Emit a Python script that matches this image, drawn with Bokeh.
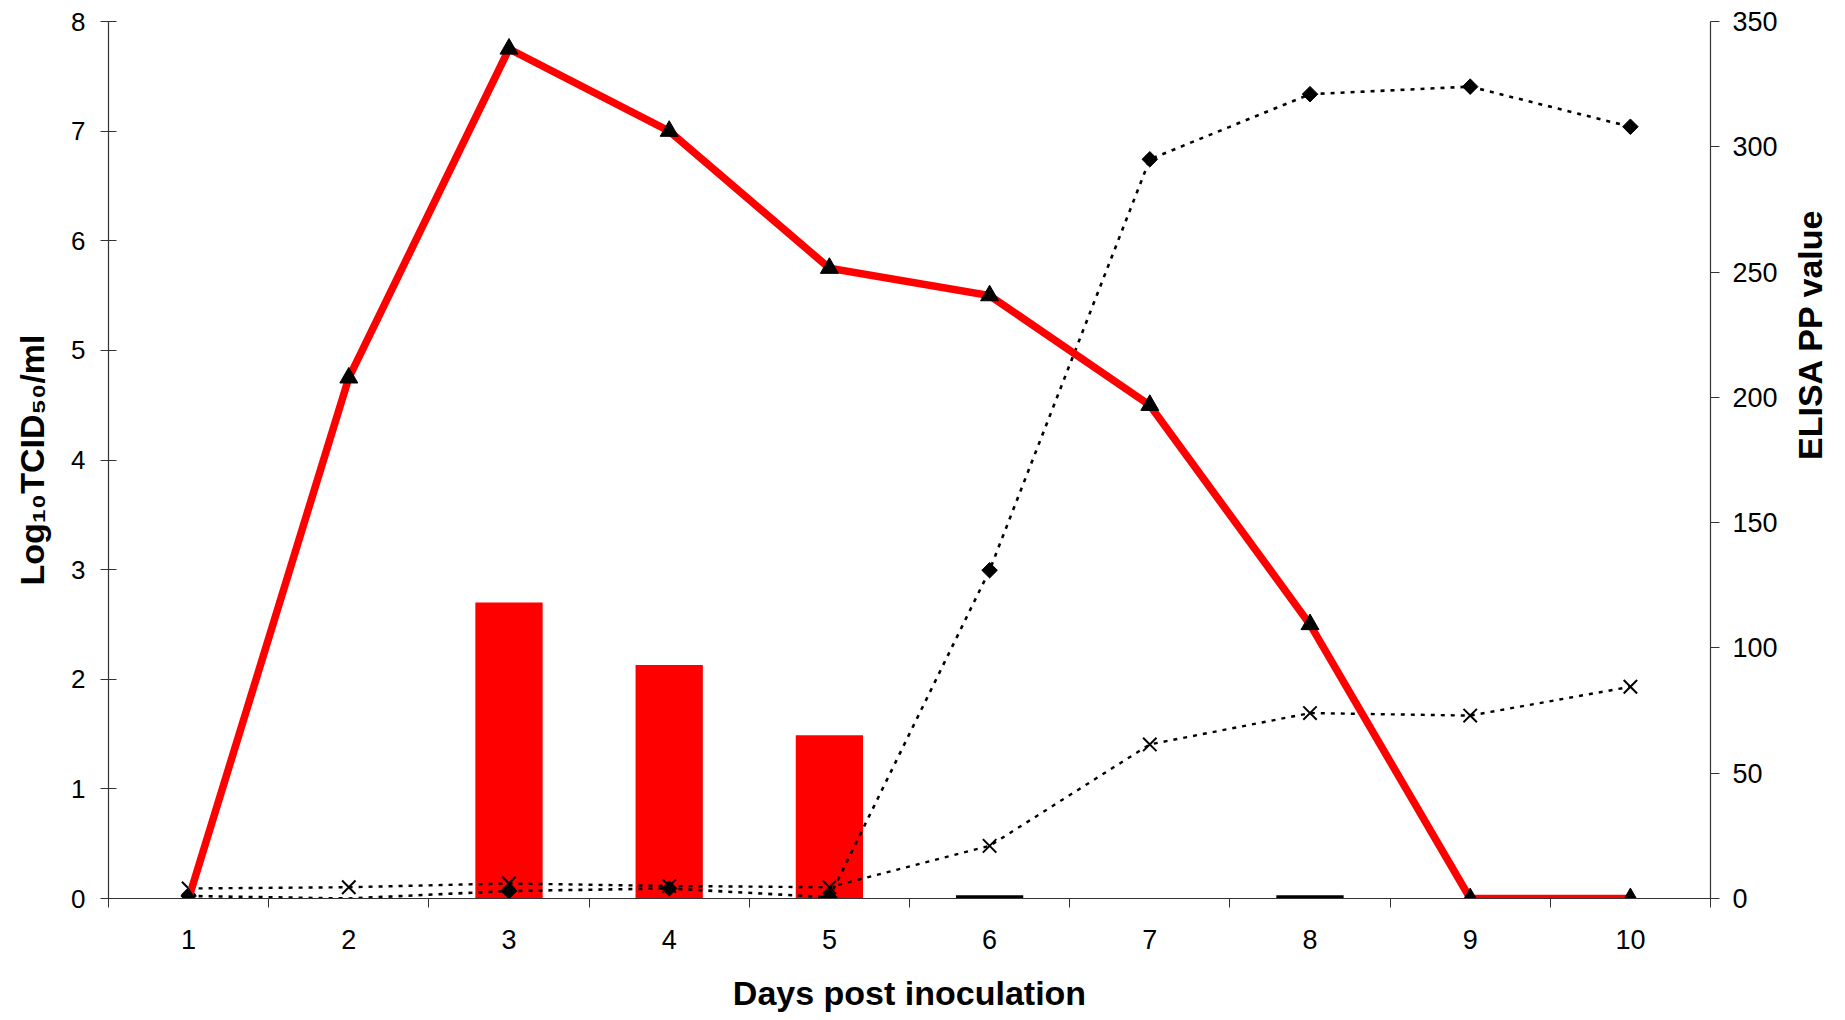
import math
from bokeh.plotting import figure
from bokeh.models import Range1d, LinearAxis, FixedTicker
from bokeh.embed import file_html
from bokeh.resources import INLINE

# ---- data ----
days = [1, 2, 3, 4, 5, 6, 7, 8, 9, 10]
virus_titre = [0, 4.75, 7.75, 7.0, 5.75, 5.5, 4.5, 2.5, 0, 0]          # red line, Log10TCID50/ml
bar_days = [3, 4, 5]
bar_titre = [2.7, 2.13, 1.49]                                          # red bars, Log10TCID50/ml
black_bar_days = [6, 8]
black_bar_titre = [0.03, 0.03]                                         # near-zero black bars
elisa_diamond = [1, 0, 3, 4, 0.5, 131, 295, 321, 324, 308]            # ELISA PP value (diamonds)
diamond_marker_shown = [True, False, True, True, True, True, True, True, True, True]
elisa_cross = [4, 4.5, 6, 5, 4.5, 21, 61.5, 74, 73, 84.5]             # ELISA PP value (crosses)
left_ticks = [0, 1, 2, 3, 4, 5, 6, 7, 8]
right_ticks = [0, 50, 100, 150, 200, 250, 300, 350]
x_title = "Days post inoculation"
left_title = "Log₁₀TCID₅₀/ml"
right_title = "ELISA PP value"

RED = "#FF0000"
AX = "#333333"
TICK_FONT = "Liberation Sans"
TITLE_FONT = "Liberation Sans"

p = figure(frame_width=1602, frame_height=877,
           x_range=Range1d(0.5, 10.5), y_range=Range1d(0, 8),
           output_backend="svg", toolbar_location=None,
           min_border_left=108, min_border_right=100,
           min_border_top=21, min_border_bottom=122)
p.xgrid.visible = False
p.ygrid.visible = False
p.outline_line_color = None
p.background_fill_color = "white"
p.border_fill_color = "white"

# x axis: labels at the days, ticks between categories
xa = p.xaxis[0]
xa.ticker = FixedTicker(ticks=days, minor_ticks=[d - 0.5 for d in days] + [days[-1] + 0.5])
xa.major_tick_out = 9
xa.major_tick_in = 0
xa.major_tick_line_color = None
xa.minor_tick_out = 9
xa.minor_tick_in = 0
xa.minor_tick_line_color = AX
xa.axis_line_color = AX
xa.axis_line_width = 1.2
xa.major_label_text_font = TICK_FONT
xa.major_label_text_font_size = "27px"
xa.major_label_text_color = "black"
xa.major_label_standoff = 22
xa.axis_label = x_title
xa.axis_label_text_font = TITLE_FONT
xa.axis_label_text_font_style = "bold"
xa.axis_label_text_font_size = "34px"
xa.axis_label_text_color = "black"
xa.axis_label_standoff = 22

# left axis
ya = p.yaxis[0]
ya.ticker = FixedTicker(ticks=left_ticks)
ya.major_tick_in = 8
ya.major_tick_out = 8
ya.minor_tick_line_color = None
ya.axis_line_color = AX
ya.axis_line_width = 1.2
ya.major_tick_line_color = AX
ya.major_label_text_font = TICK_FONT
ya.major_label_text_font_size = "26px"
ya.major_label_text_color = "black"
ya.major_label_standoff = 15
ya.axis_label = left_title
ya.axis_label_text_font = TITLE_FONT
ya.axis_label_text_font_style = "bold"
ya.axis_label_text_font_size = "34px"
ya.axis_label_text_color = "black"
ya.axis_label_standoff = 17

# right axis
p.extra_y_ranges = {"elisa": Range1d(0, 350)}
ra = LinearAxis(y_range_name="elisa", ticker=FixedTicker(ticks=right_ticks))
ra.major_tick_in = 0
ra.major_tick_out = 9
ra.minor_tick_line_color = None
ra.axis_line_color = AX
ra.axis_line_width = 1.2
ra.major_tick_line_color = AX
ra.major_label_text_font = TICK_FONT
ra.major_label_text_font_size = "27px"
ra.major_label_text_color = "black"
ra.major_label_standoff = 13
ra.axis_label = right_title
ra.axis_label_text_font = TITLE_FONT
ra.axis_label_text_font_style = "bold"
ra.axis_label_text_font_size = "34px"
ra.axis_label_text_color = "black"
ra.axis_label_standoff = 29
ra.axis_label_orientation = math.pi / 2
p.add_layout(ra, "right")

# bars
p.vbar(x=bar_days, top=bar_titre, bottom=0, width=0.42, fill_color=RED, line_color=None)
p.vbar(x=black_bar_days, top=black_bar_titre, bottom=0, width=0.42, fill_color="black", line_color=None)

# ELISA dotted series
p.line(days, elisa_diamond, y_range_name="elisa", line_color="black", line_width=2.6, line_dash="4 6")
p.line(days, elisa_cross, y_range_name="elisa", line_color="black", line_width=2.4, line_dash="4 6")
dx = [d for d, s in zip(days, diamond_marker_shown) if s]
dy = [v for v, s in zip(elisa_diamond, diamond_marker_shown) if s]
p.scatter(dx, dy, y_range_name="elisa", marker="square", angle=math.pi / 4, size=11,
          fill_color="black", line_color="black")
p.scatter(days, elisa_cross, y_range_name="elisa", marker="x", size=19,
          line_color="black", line_width=2)

# virus titre red line with triangles
p.line(days, virus_titre, line_color=RED, line_width=7.5, line_join="miter")
p.scatter(days, virus_titre, marker="triangle", size=18, fill_color="black", line_color="black")

open("out.html", "w").write(file_html(p, INLINE))
